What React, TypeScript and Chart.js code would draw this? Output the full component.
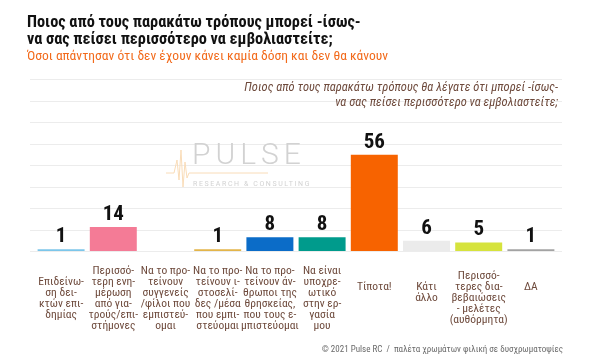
import { useEffect, useRef } from 'react';
import { Chart, registerables } from 'chart.js';

Chart.register(...registerables);

const categories: string[][] = [
  ['Επιδείνω-', 'ση δει-', 'κτών επι-', 'δημίας'],
  ['Περισσό-', 'τερη ενη-', 'μέρωση', 'από για-', 'τρούς/επι-', 'στήμονες'],
  ['Να το προ-', 'τείνουν', 'συγγενείς', '/φίλοι που', 'εμπιστεύ-', 'ομαι'],
  ['Να το προ-', 'τείνουν ι-', 'στοσελί-', 'δες /μέσα', 'που εμπι-', 'στεύομαι'],
  ['Να το προ-', 'τείνουν άν-', 'θρωποι της', 'θρησκείας,', 'που τους ε-', 'μπιστεύομαι'],
  ['Να είναι', 'υποχρε-', 'ωτικό', 'στην ερ-', 'γασία', 'μου'],
  ['Τίποτα!'],
  ['Κάτι', 'άλλο'],
  ['Περισσό-', 'τερες δια-', 'βεβαιώσεις', '- μελέτες', '(αυθόρμητα)'],
  ['ΔΑ'],
];

const values: number[] = [1, 14, 0, 1, 8, 8, 56, 6, 5, 1];

const barColors: string[] = [
  '#7cc6ea', '#f47b96', '#bdbdbd', '#e3b54a', '#0b6cc8',
  '#009b8c', '#f76300', '#ebebeb', '#d6e33d', '#a3a3a3',
];

const yMin = 0;
const yMax = 100;
const yStep = 12.5;

const titleLines = [
  'Ποιος από τους παρακάτω τρόπους μπορεί -ίσως-',
  'να σας πείσει περισσότερο να εμβολιαστείτε;',
];
const subtitle = 'Όσοι απάντησαν ότι δεν έχουν κάνει καμία δόση και δεν θα κάνουν';
const questionLines = [
  'Ποιος από τους παρακάτω τρόπους θα λέγατε ότι μπορεί -ίσως-',
  'να σας πείσει περισσότερο να εμβολιαστείτε;',
];
const footer = '© 2021 Pulse RC  /  παλέτα χρωμάτων φιλική σε δυσχρωματοψίες';

const COND = '"Roboto Condensed", "Roboto", sans-serif';
const BROWN = '#6e4a3c';

const gridPlugin = {
  id: 'customGrid',
  beforeDatasetsDraw(chart: any) {
    const { ctx, chartArea, scales } = chart;
    const y = scales.y;
    ctx.save();
    ctx.strokeStyle = '#ececec';
    ctx.lineWidth = 1;
    for (let v = yMin; v <= yMax + 0.001; v += yStep) {
      const py = Math.round(y.getPixelForValue(v)) + 0.5;
      ctx.beginPath();
      ctx.moveTo(chartArea.left - 5, py);
      ctx.lineTo(chartArea.right + 5, py);
      ctx.stroke();
    }
    // watermark
    ctx.fillStyle = '#d2d2d2';
    ctx.textBaseline = 'alphabetic';
    ctx.textAlign = 'left';
    ctx.font = '300 30px "Roboto", sans-serif';
    (ctx as any).letterSpacing = '5px';
    ctx.fillText('PULSE', 192, 164);
    ctx.font = '400 7px "Roboto", sans-serif';
    (ctx as any).letterSpacing = '1.6px';
    ctx.fillText('RESEARCH & CONSULTING', 193, 186);
    (ctx as any).letterSpacing = '0px';
    ctx.strokeStyle = '#f9dcb8';
    ctx.lineWidth = 1;
    ctx.beginPath();
    ctx.moveTo(166, 173);
    ctx.lineTo(174, 173);
    ctx.lineTo(177, 160);
    ctx.lineTo(179, 180);
    ctx.lineTo(181, 150);
    ctx.lineTo(183, 187);
    ctx.lineTo(185, 162);
    ctx.lineTo(187, 178);
    ctx.lineTo(189, 173);
    ctx.lineTo(268, 173);
    ctx.stroke();
    ctx.restore();
  },
};

const valueLabelPlugin = {
  id: 'valueLabels',
  afterDatasetsDraw(chart: any) {
    const { ctx } = chart;
    const meta = chart.getDatasetMeta(0);
    ctx.save();
    ctx.fillStyle = '#111111';
    ctx.font = `bold 21px ${COND}`;
    ctx.textAlign = 'center';
    ctx.textBaseline = 'alphabetic';
    meta.data.forEach((bar: any, i: number) => {
      const v = values[i];
      if (!v) return;
      ctx.fillText(String(v), bar.x, bar.y - 7);
    });
    ctx.restore();
  },
};

export default function App() {
  const canvasRef = useRef<HTMLCanvasElement | null>(null);

  useEffect(() => {
    if (!canvasRef.current) return;
    const chart = new Chart(canvasRef.current, {
      type: 'bar',
      data: {
        labels: categories,
        datasets: [
          {
            data: values,
            backgroundColor: barColors,
            borderWidth: 0,
            barPercentage: 0.9,
            categoryPercentage: 1,
          },
        ],
      },
      options: {
        animation: false,
        responsive: false,
        maintainAspectRatio: false,
        layout: { padding: { left: 35, right: 37, top: 79, bottom: 0 } },
        plugins: {
          legend: { display: false },
          tooltip: { enabled: false },
          title: { display: false },
        },
        scales: {
          x: {
            grid: { display: false },
            border: { display: false },
            ticks: {
              autoSkip: false,
              maxRotation: 0,
              minRotation: 0,
              padding: 12,
              color: BROWN,
              crossAlign: 'center',
              font: { family: COND, size: 11.5, lineHeight: 0.95 },
              callback: (_v: any, i: number) => {
                const lines = categories[i];
                const pad = Math.max(0, 3 - lines.length);
                return [...lines, ...Array(pad).fill('')];
              },
            },
            afterFit: (s: any) => {
              s.height = 110;
            },
          },
          y: {
            min: yMin,
            max: yMax,
            grid: { display: false },
            border: { display: false },
            ticks: { display: false, stepSize: yStep },
            afterFit: (s: any) => {
              s.width = 0;
            },
          },
        },
      },
      plugins: [gridPlugin, valueLabelPlugin],
    });
    return () => chart.destroy();
  }, []);

  return (
    <div
      style={{
        position: 'absolute',
        left: 0,
        top: 0,
        width: 594,
        height: 361,
        background: '#ffffff',
        overflow: 'hidden',
      }}
    >
      <canvas
        ref={canvasRef}
        width={594}
        height={361}
        style={{ position: 'absolute', left: 0, top: 0, width: 594, height: 361 }}
      />
      <div
        style={{
          position: 'absolute',
          left: 27,
          top: 14,
          fontFamily: COND,
          fontWeight: 'bold',
          fontSize: 16.3,
          lineHeight: '16.5px',
          color: '#111111',
          whiteSpace: 'nowrap',
        }}
      >
        {titleLines.map((l, i) => (
          <div key={i}>{l}</div>
        ))}
      </div>
      <div
        style={{
          position: 'absolute',
          left: 27,
          top: 48,
          fontFamily: COND,
          fontSize: 13.5,
          lineHeight: '14px',
          color: '#f26a1b',
          whiteSpace: 'nowrap',
        }}
      >
        {subtitle}
      </div>
      <div
        style={{
          position: 'absolute',
          right: 36,
          top: 79,
          fontFamily: COND,
          fontStyle: 'italic',
          fontSize: 12.5,
          lineHeight: '15px',
          color: BROWN,
          textAlign: 'right',
          whiteSpace: 'nowrap',
        }}
      >
        {questionLines.map((l, i) => (
          <div key={i}>{l}</div>
        ))}
      </div>
      <div
        style={{
          position: 'absolute',
          right: 31,
          top: 344,
          fontFamily: COND,
          fontSize: 9,
          lineHeight: '11px',
          color: '#6a6a6a',
          whiteSpace: 'pre',
        }}
      >
        {footer}
      </div>
    </div>
  );
}
